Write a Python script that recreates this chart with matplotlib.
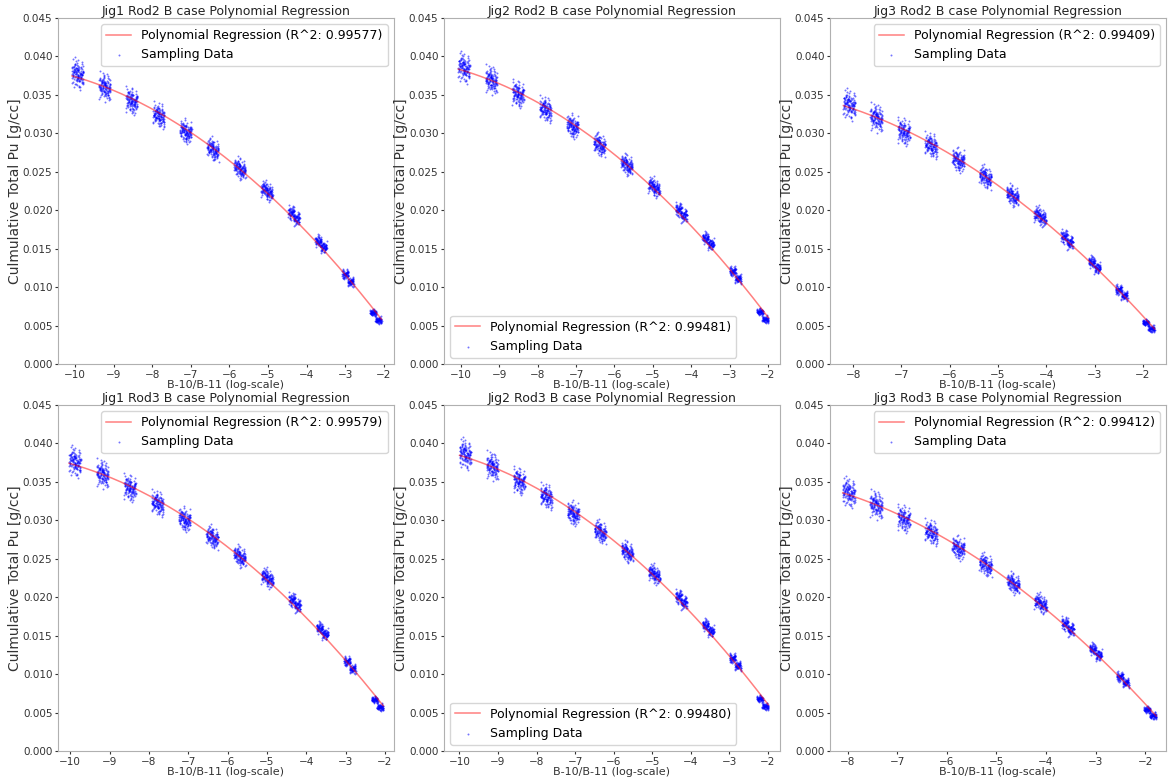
import numpy as np
import matplotlib
matplotlib.use("Agg")
import matplotlib.pyplot as plt
from matplotlib.ticker import MultipleLocator

# Cluster centres of log(B-10/B-11) and mean Pu of the two sub-columns in each cluster
jig1_rod2_x = [-9.93, -9.23, -8.53, -7.83, -7.13, -6.43, -5.73, -5.03, -4.33, -3.63, -2.93, -2.21]
jig1_rod2_yl = [0.0379, 0.0362, 0.0344, 0.0325, 0.0304, 0.0282, 0.0257, 0.0228, 0.0197, 0.0160, 0.0117, 0.0067]
jig1_rod2_yr = [0.0375, 0.0358, 0.0340, 0.0321, 0.0300, 0.0276, 0.0251, 0.0222, 0.0189, 0.0152, 0.0107, 0.0057]

jig2_rod2_x = [-9.92, -9.21, -8.51, -7.80, -7.09, -6.39, -5.68, -4.97, -4.26, -3.56, -2.85, -2.14]
jig2_rod2_yl = [0.0387, 0.0371, 0.0353, 0.0333, 0.0311, 0.0288, 0.0262, 0.0233, 0.0201, 0.0164, 0.0121, 0.0068]
jig2_rod2_yr = [0.0383, 0.0367, 0.0349, 0.0329, 0.0307, 0.0282, 0.0256, 0.0227, 0.0193, 0.0156, 0.0111, 0.0058]

jig3_rod2_x = [-8.08, -7.52, -6.95, -6.39, -5.82, -5.26, -4.70, -4.13, -3.57, -3.00, -2.44, -1.88]
jig3_rod2_yl = [0.0339, 0.0322, 0.0304, 0.0286, 0.0267, 0.0246, 0.0222, 0.0195, 0.0166, 0.0133, 0.0097, 0.0054]
jig3_rod2_yr = [0.0335, 0.0318, 0.0300, 0.0282, 0.0263, 0.0240, 0.0216, 0.0189, 0.0158, 0.0125, 0.0089, 0.0046]

jig1_rod3_x = [-9.88, -9.18, -8.48, -7.78, -7.09, -6.39, -5.69, -4.99, -4.29, -3.59, -2.89, -2.19]
jig1_rod3_yl = [0.0378, 0.0362, 0.0344, 0.0324, 0.0303, 0.0281, 0.0256, 0.0228, 0.0197, 0.0160, 0.0117, 0.0067]
jig1_rod3_yr = [0.0374, 0.0358, 0.0340, 0.0320, 0.0299, 0.0275, 0.0250, 0.0222, 0.0189, 0.0152, 0.0107, 0.0057]

jig2_rod3_x = [-9.85, -9.15, -8.45, -7.75, -7.05, -6.35, -5.65, -4.95, -4.25, -3.55, -2.85, -2.14]
jig2_rod3_yl = [0.0388, 0.0372, 0.0353, 0.0333, 0.0311, 0.0288, 0.0262, 0.0233, 0.0201, 0.0164, 0.0121, 0.0068]
jig2_rod3_yr = [0.0384, 0.0368, 0.0349, 0.0329, 0.0307, 0.0282, 0.0256, 0.0227, 0.0193, 0.0156, 0.0111, 0.0058]

jig3_rod3_x = [-7.98, -7.43, -6.87, -6.32, -5.77, -5.22, -4.66, -4.11, -3.56, -3.00, -2.45, -1.90]
jig3_rod3_yl = [0.0338, 0.0322, 0.0304, 0.0286, 0.0266, 0.0245, 0.0221, 0.0195, 0.0166, 0.0133, 0.0097, 0.0054]
jig3_rod3_yr = [0.0334, 0.0318, 0.0300, 0.0282, 0.0262, 0.0239, 0.0215, 0.0189, 0.0158, 0.0125, 0.0089, 0.0046]

# Sampling spread (1 sigma, g/cc) of each cluster, largest at low ratio
cluster_spread = [0.00080, 0.00076, 0.00072, 0.00067, 0.00062, 0.00057,
                  0.00052, 0.00047, 0.00041, 0.00035, 0.00029, 0.00021]

# Normalised sample offsets inside one sub-column
y_offsets = [0.12, -0.85, 1.43, -0.31, 0.67, -1.92, 0.05, 0.88, -0.47, 1.10,
             -1.21, 0.33, -0.09, 2.15, -0.62, 0.41, -1.55, 0.76, -0.18, 1.62,
             -0.94, 0.24, -0.39, 1.01, -2.30, 0.58, -0.71, 0.15, 1.27, -1.08,
             0.49, -0.26, 0.93, -1.37, 0.02, 1.84, -0.55, 0.37, -0.80, 0.69,
             -1.66, 0.28, -0.13, 1.18, -0.99, 0.52, -0.44, 2.48, -0.67, 0.09,
             -1.14, 0.81, -0.22, 1.35, -0.58, 0.19, -1.80, 0.63, -0.35, 0.97]
x_offsets = [-0.42, 0.77, 0.13, -0.91, 0.55, -0.08, 0.34, -0.66, 0.98, -0.27,
             0.61, -0.83, 0.20, -0.49, 0.88, 0.04, -0.72, 0.45, -0.15, 0.69,
             -0.97, 0.29, -0.58, 0.82, -0.33, 0.10, -0.76, 0.51, -0.02, 0.93,
             -0.44, 0.37, -0.88, 0.66, -0.19, 0.25, -0.63, 0.79, -0.11, 0.48,
             -0.95, 0.16, -0.53, 0.72, -0.30, 0.58, -0.69, 0.07, 0.86, -0.38,
             0.31, -0.81, 0.64, -0.05, 0.42, -0.74, 0.22, -0.47, 0.90, -0.24]

titles = ["Jig1 Rod2 B case Polynomial Regression",
          "Jig2 Rod2 B case Polynomial Regression",
          "Jig3 Rod2 B case Polynomial Regression",
          "Jig1 Rod3 B case Polynomial Regression",
          "Jig2 Rod3 B case Polynomial Regression",
          "Jig3 Rod3 B case Polynomial Regression"]
r2_scores = ["0.99577", "0.99481", "0.99409", "0.99579", "0.99480", "0.99412"]
legend_locs = ["upper right", "lower left", "upper right",
               "upper right", "lower left", "upper right"]
x_limits = [(-10.44, -1.74), (-10.44, -1.69), (-8.48, -1.52),
            (-10.31, -1.77), (-10.40, -1.69), (-8.36, -1.58)]

panels = [(jig1_rod2_x, jig1_rod2_yl, jig1_rod2_yr),
          (jig2_rod2_x, jig2_rod2_yl, jig2_rod2_yr),
          (jig3_rod2_x, jig3_rod2_yl, jig3_rod2_yr),
          (jig1_rod3_x, jig1_rod3_yl, jig1_rod3_yr),
          (jig2_rod3_x, jig2_rod3_yl, jig2_rod3_yr),
          (jig3_rod3_x, jig3_rod3_yl, jig3_rod3_yr)]


def sampling_points(xc, yl, yr, half_gap=0.07, x_width=0.08):
    """Spread the samples of every cluster into its two sub-columns."""
    xo = np.array(x_offsets)
    yo = np.array(y_offsets)
    xs, ys = [], []
    k = 0
    for i in range(len(xc)):
        for side, ym in ((-1, yl[i]), (1, yr[i])):
            xs.append(xc[i] + side * half_gap + np.roll(xo, 7 * k) * x_width)
            ys.append(ym + np.roll(yo, 11 * k) * cluster_spread[i])
            k += 1
    return np.concatenate(xs), np.concatenate(ys)


fig, axs = plt.subplots(2, 3, figsize=(11.69, 7.80), dpi=100)
fig.subplots_adjust(left=0.0496, right=0.9974, bottom=0.037, top=0.977,
                    wspace=0.149, hspace=0.118)

for n, ax in enumerate(axs.flat):
    xc, yl, yr = panels[n]
    gap = 0.06 if n in (2, 5) else 0.07
    wid = 0.065 if n in (2, 5) else 0.08
    x, y = sampling_points(xc, yl, yr, half_gap=gap, x_width=wid)

    # quadratic fit through all samples
    coef = np.polyfit(x, y, 2)
    xf = np.linspace(x.min(), x.max(), 200)
    ax.plot(xf, np.polyval(coef, xf), color="red", alpha=0.5, lw=1.1,
            label=f"Polynomial Regression (R^2: {r2_scores[n]})")
    ax.scatter(x, y, s=2, color="blue", alpha=0.55, linewidths=0,
               label="Sampling Data")

    ax.set_xlim(*x_limits[n])
    ax.set_ylim(0, 0.045)
    ax.xaxis.set_major_locator(MultipleLocator(1))
    ax.yaxis.set_major_locator(MultipleLocator(0.005))
    ax.yaxis.set_major_formatter(plt.FormatStrFormatter("%.3f"))
    ax.tick_params(labelsize=7.5, colors="#333333", length=2.5, pad=1.5)
    for sp in ax.spines.values():
        sp.set_color("#b0b0b0")
    ax.set_title(titles[n], fontsize=9, color="#222222", pad=2)
    ax.set_xlabel("B-10/B-11 (log-scale)", fontsize=8, color="#333333", labelpad=0)
    ax.set_ylabel("Culmulative Total Pu [g/cc]", fontsize=10, color="#333333", labelpad=0.5)
    ax.legend(loc=legend_locs[n], fontsize=9)

plt.savefig("out.png", dpi=100)
